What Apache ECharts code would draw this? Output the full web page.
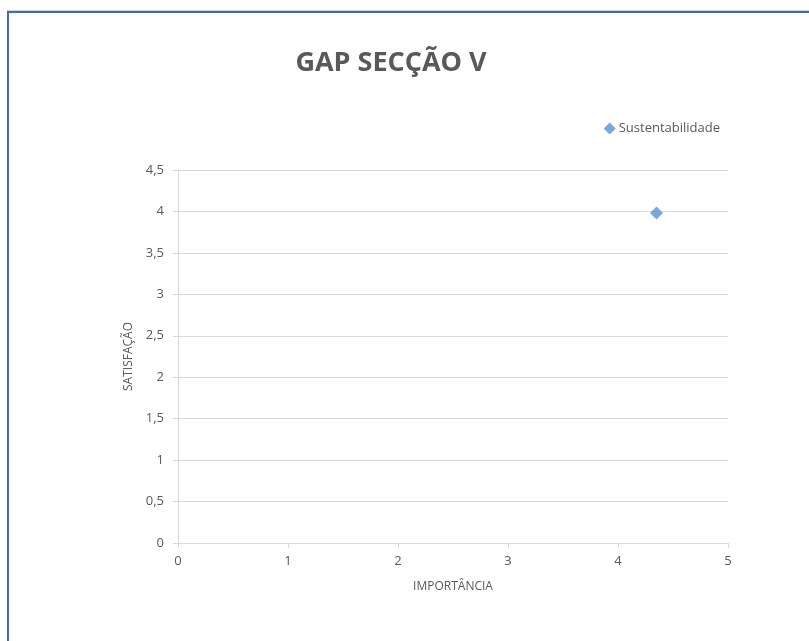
<!DOCTYPE html>
<html>
<head>
<meta charset="utf-8">
<script src="https://cdn.jsdelivr.net/npm/echarts@6/dist/echarts.min.js"></script>
<style>
  html, body { margin: 0; padding: 0; background: #ffffff; }
  #frame {
    position: absolute; left: 7px; top: 11px; width: 820px; height: 660px;
    border-left: 2px solid #3f6cb4; border-top: 2px solid #3f6cb4;
    box-shadow: 0 -1px 0 #c9d3e3;
  }
  #chart { position: absolute; left: 0; top: 0; width: 809px; height: 641px; }
</style>
</head>
<body>
<div id="frame"></div>
<div id="chart"></div>
<script>
// Sustainability: importance vs satisfaction
const seriesNames = ['Sustentabilidade'];
const importancia = [4.35];
const satisfacao = [3.98];

const chart = echarts.init(document.getElementById('chart'), null, { renderer: 'canvas' });
const grey = '#595959';
const fontFamily = '"Open Sans", "Liberation Sans", sans-serif';

chart.setOption({
  animation: false,
  title: {
    text: 'GAP SECÇÃO V',
    left: 386, top: 45, textAlign: 'center',
    textStyle: { color: grey, fontSize: 27, fontWeight: 'bold', fontFamily: fontFamily }
  },
  legend: {
    data: seriesNames,
    right: 84, top: 117,
    itemWidth: 12, itemHeight: 12, itemGap: 3,
    icon: 'diamond',
    textStyle: { color: grey, fontSize: 13, fontFamily: fontFamily, padding: [0, 0, 0, -2] }
  },
  grid: { left: 178, right: 81, top: 170, bottom: 98, containLabel: false },
  xAxis: {
    type: 'value', min: 0, max: 5, interval: 1,
    name: 'IMPORTÂNCIA', nameLocation: 'middle', nameGap: 38,
    nameTextStyle: { color: grey, fontSize: 12, fontFamily: fontFamily },
    axisLine: { show: true, lineStyle: { color: '#d9d9d9', width: 1 } },
    axisTick: { show: true, length: 5, lineStyle: { color: '#d9d9d9' } },
    axisLabel: { color: grey, fontSize: 13, fontFamily: fontFamily, margin: 12 },
    splitLine: { show: false }
  },
  yAxis: {
    type: 'value', min: 0, max: 4.5, interval: 0.5,
    name: 'SATISFAÇÃO', nameLocation: 'middle', nameGap: 37, nameRotate: 90,
    nameTextStyle: { color: grey, fontSize: 12, fontFamily: fontFamily },
    axisLine: { show: true, lineStyle: { color: '#d9d9d9', width: 1 } },
    axisTick: { show: true, length: 5, lineStyle: { color: '#d9d9d9' } },
    axisLabel: {
      color: grey, fontSize: 13, fontFamily: fontFamily, margin: 14,
      formatter: v => String(v).replace('.', ',')
    },
    splitLine: { show: true, lineStyle: { color: '#d9d9d9', width: 1 } }
  },
  series: [{
    name: seriesNames[0],
    type: 'scatter',
    symbol: 'diamond',
    symbolSize: 13,
    itemStyle: { color: '#5694d2' },
    data: importancia.map((x, i) => [x, satisfacao[i]])
  }]
});
</script>
</body>
</html>
